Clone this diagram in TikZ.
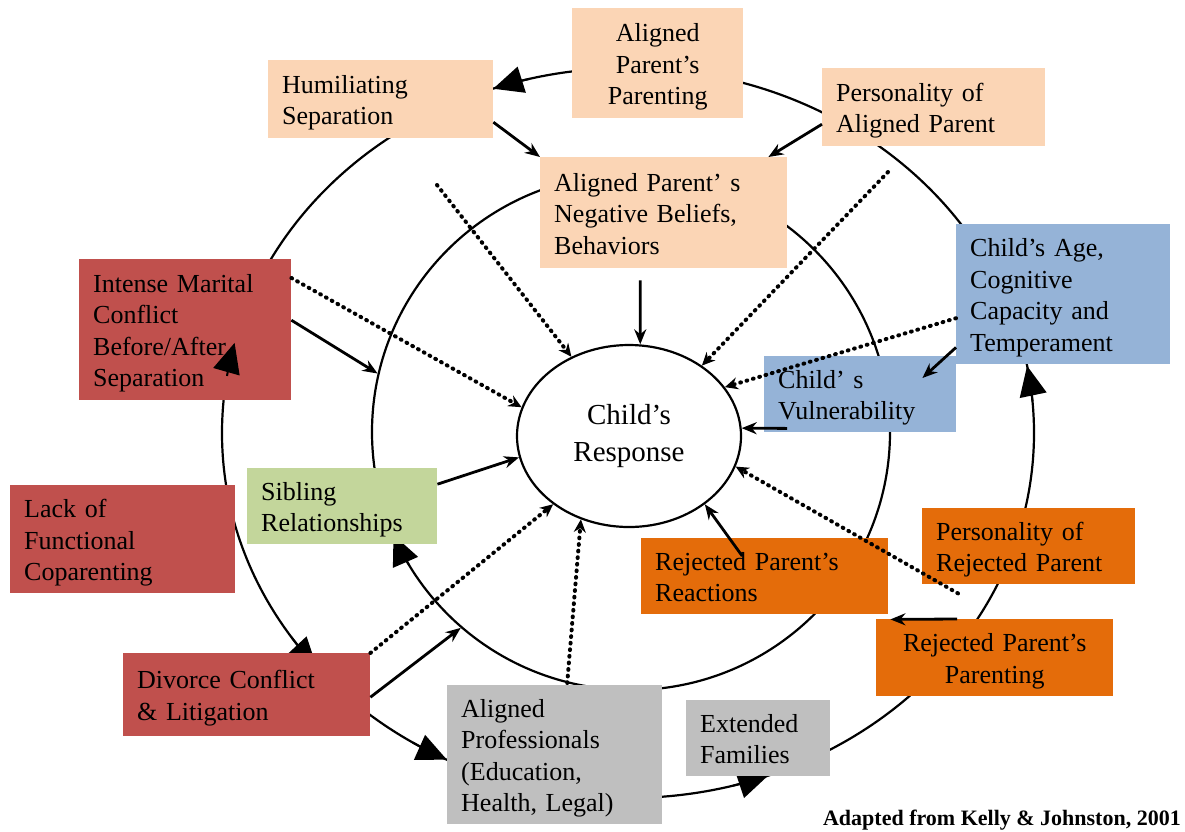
\documentclass[tikz,border=0pt]{standalone}
\usepackage{fontspec}
\setmainfont{Liberation Serif}
\usetikzlibrary{shapes.geometric,arrows.meta,calc}
\definecolor{peach}{HTML}{FBD5B5}
\definecolor{sky}{HTML}{95B3D7}
\definecolor{brick}{HTML}{C0504D}
\definecolor{leaf}{HTML}{C3D69B}
\definecolor{stone}{HTML}{BFBFBF}
\definecolor{tang}{HTML}{E46C0A}
\begin{document}
\begin{tikzpicture}[x=1pt,y=1pt,
  bx/.style={rectangle, anchor=north west, inner xsep=14pt, inner ysep=0pt, align=left, font=\fontsize{26}{31.5}\selectfont,
    execute at begin node={\rule{0pt}{26pt}}, execute at end node={\rule[-6pt]{0pt}{6pt}}},
  ring/.style={line width=2.2pt},
  arr/.style={line width=2.8pt, -{Stealth[length=15pt,width=12pt]}},
  dot/.style={line width=4pt, line cap=round, dash pattern=on 0.8pt off 5.8pt, -{Stealth[length=13pt,width=12pt]}},
  big/.style={line width=2pt, -{Triangle[length=30pt,width=27pt]}}]
\useasboundingbox (0,0) rectangle (1185,-831);
\coordinate (O) at (628,-433);
% rings
\draw[ring] (O) ellipse [x radius=406pt, y radius=365pt];
\node[ring, draw, ellipse, minimum width=518pt, minimum height=516pt, inner sep=0pt] (inner) at (631,-432) {};
% big arrow heads on the rings
\draw[big] ($(O)+(104:406pt and 365pt)$) arc[start angle=104, end angle=109.4, x radius=406pt, y radius=365pt];
\draw[big] ($(O)+(214:406pt and 365pt)$) arc[start angle=214, end angle=220, x radius=406pt, y radius=365pt];
\draw[big] ($(O)+(238:406pt and 365pt)$) arc[start angle=238, end angle=243.5, x radius=406pt, y radius=365pt];
\draw[big] ($(O)+(285:406pt and 365pt)$) arc[start angle=285, end angle=290.2, x radius=406pt, y radius=365pt];
\draw[big] ($(O)+(5:406pt and 365pt)$) arc[start angle=5, end angle=10.6, x radius=406pt, y radius=365pt];
\draw[big] ($(inner.center)+(211:259pt and 258pt)$) arc[start angle=211, end angle=203.5, x radius=259pt, y radius=258pt];
% boxes
\node[bx, fill=peach, text width=143pt, minimum height=110pt, align=center] (app) at (572,-8) {Aligned\\Parent’s\\Parenting};
\node[bx, fill=peach, text width=197pt, minimum height=78pt] (hum) at (268,-60) {Humiliating\\Separation};
\node[bx, fill=peach, text width=195pt, minimum height=78pt] (pap) at (822,-68) {Personality of\\Aligned Parent};
\node[bx, fill=peach, text width=219pt, minimum height=111pt] (neg) at (540,-157) {Aligned Parent’ s\\Negative Beliefs,\\Behaviors};
\node[bx, fill=sky, text width=186pt, minimum height=140pt] (age) at (956,-224) {Child’s Age,\\Cognitive\\Capacity and\\Temperament};
\node[bx, fill=sky, text width=164pt, minimum height=76pt] (vul) at (764,-356) {Child’ s\\Vulnerability};
\node[bx, fill=brick, text width=184pt, minimum height=141pt] (imc) at (79,-259) {Intense Marital\\Conflict\\Before/After\\Separation};
\node[bx, fill=leaf, text width=162pt, minimum height=76pt] (sib) at (247,-468) {Sibling\\Relationships};
\node[bx, fill=brick, text width=197pt, minimum height=108pt] (lack) at (10,-485) {Lack of\\Functional\\Coparenting};
\node[bx, fill=brick, text width=219pt, minimum height=83pt] (div) at (123,-653) {Divorce Conflict\\\& Litigation};
\node[bx, fill=stone, text width=187pt, minimum height=139pt] (prof) at (447,-685) {Aligned\\Professionals\\(Education,\\Health, Legal)};
\node[bx, fill=stone, text width=116pt, minimum height=76pt] (ext) at (686,-700) {Extended\\Families};
\node[bx, fill=tang, text width=219pt, minimum height=76pt] (rea) at (641,-538) {Rejected Parent’s\\Reactions};
\node[bx, fill=tang, text width=185pt, minimum height=76pt] (prp) at (922,-508) {Personality of\\Rejected Parent};
\node[bx, fill=tang, text width=209pt, minimum height=77pt, align=center] (rpar) at (876,-619) {Rejected Parent’s\\Parenting};
% centre
\node[ellipse, draw, line width=2.2pt, minimum width=224pt, minimum height=182pt, inner sep=0pt, align=center, font=\fontsize{29}{37}\selectfont,
  execute at begin node={\rule{0pt}{26.5pt}}, execute at end node={\rule[-7pt]{0pt}{7pt}}] (cr) at (629,-436) {Child’s\\Response};
% solid arrows
\draw[arr] ([yshift=-23pt]hum.east) -- (neg.north west);
\draw[arr] ([yshift=-17pt]pap.west) -- ([xshift=-19pt]neg.north east);
\draw[arr] ([shift={(-23.5pt,-12pt)}]neg.south) -- (cr.83);
\draw[arr] ([yshift=9.5pt]imc.east) -- (inner.167);
\draw[arr] ([yshift=22pt]sib.east) -- (cr.191);
\draw[arr] ([yshift=-2.5pt]div.east) -- (inner.229);
\draw[arr] ([yshift=17pt]age.south west) -- ([shift={(-34pt,-22pt)}]vul.north east);
\draw[arr] ([shift={(23pt,4pt)}]vul.south west) -- (cr.4);
\draw[arr] ([shift={(-22.5pt,-18pt)}]rea.north) -- (cr.318);
\draw[arr] ([xshift=81pt]rpar.north west) -- ([shift={(2pt,-5pt)}]rea.south east);
% dotted arrows
\coordinate (d1) at (437,-185);
\coordinate (d2) at (888,-172);
\draw[dot] (d1) -- (cr.126);
\draw[dot] (d2) -- (cr.44);
\draw[dot] ([yshift=-19pt]imc.north east) -- (cr.165);
\draw[dot] ([yshift=-24pt]age.west) -- (cr.27);
\draw[dot] ([shift={(36pt,-9pt)}]prp.south west) -- (cr.344);
\draw[dot] (div.north east) -- (cr.222);
\draw[dot] ([shift={(12.5pt,2pt)}]prof.north) -- (cr.240);
% arrow head drawn over the marital-conflict box
\draw[big] ($(O)+(171:406pt and 365pt)$) arc[start angle=171, end angle=165.7, x radius=406pt, y radius=365pt];
% source
\node[anchor=east, inner sep=0pt, font=\bfseries\fontsize{22}{26}\selectfont] (src) at (1181,-820) {Adapted from Kelly \& Johnston, 2001};
\end{tikzpicture}
\end{document}
